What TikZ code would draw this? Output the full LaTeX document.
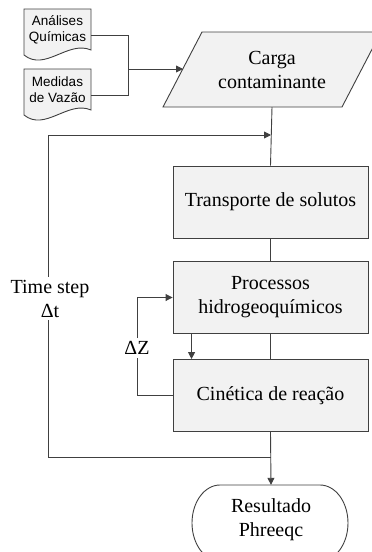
\documentclass[tikz,border=0pt]{standalone}
\usepackage{fontspec}
\setmainfont{Liberation Serif}
\newfontfamily\docsans{Liberation Sans}
\usetikzlibrary{arrows.meta}
\definecolor{boxfill}{HTML}{F2F2F2}
\definecolor{linec}{HTML}{404040}
\tikzset{
  conn/.style={draw=linec, line width=0.9pt},
  arr/.style={conn, -{Triangle[length=7pt,width=7pt]}},
  procbox/.style={draw=linec, line width=0.9pt, fill=boxfill, minimum width=195pt, minimum height=72pt, align=center, font=\fontsize{20}{24}\selectfont, inner sep=0pt},
  plain/.style={align=center, font=\fontsize{20}{24}\selectfont, inner sep=0pt},
  doctext/.style={align=center, font=\docsans\fontsize{13.5}{16}\selectfont, minimum width=67pt, inner sep=0pt},
  shapeline/.style={draw=linec, line width=0.9pt, fill=boxfill},
  termline/.style={draw=linec, line width=0.9pt, fill=white},
  lbl/.style={align=center, font=\fontsize{20}{24}\selectfont, inner sep=3pt}
}
\begin{document}
\begin{tikzpicture}[x=1pt,y=-1pt]
\useasboundingbox (0,0) rectangle (372,552);
\clip (0,0) rectangle (372,552);
% document shapes
\path[shapeline] (24,9) -- (91,9) -- (91,50) .. controls (68,40) and (45,72) .. (24,55) -- cycle;
\path[shapeline] (24,69) -- (91,69) -- (91,110) .. controls (68,100) and (45,132) .. (24,115) -- cycle;
\node[doctext] (doc1) at (57.5,30) {Análises\\Químicas};
\node[doctext] (doc2) at (57.5,90) {Medidas\\de Vazão};
% parallelogram
\path[shapeline] (163,107) -- (202,32) -- (381,32) -- (342,107) -- cycle;
\node[plain, minimum height=75pt] (carga) at (272,69.5) {Carga\\contaminante};
\coordinate (cargaL) at (183,69);
% process boxes
\node[procbox] (trans) at (270.5,202) {Transporte de solutos};
\node[procbox] (proc) at (270.5,297.5) {Processos\\hidrogeoquímicos};
\node[procbox] (cin) at (270.5,395.5) {Cinética de reação};
% terminal
\path[termline] (220,485) -- (320,485) arc[start angle=270,end angle=450,x radius=28,y radius=38] -- (220,561) arc[start angle=90,end angle=270,x radius=28,y radius=38] -- cycle;
\node[plain, minimum height=70pt] (res) at (271,520) {Resultado\\Phreeqc};
% labels
\node[lbl] (ts) at (50,298.5) {Time step\\Δt};
\node[lbl] (dz) at (137,348) {ΔZ};
% junctions
\coordinate (jtop) at (271,135);
\coordinate (jbot) at (271,457);
\coordinate (jdoc) at (128,69);
% connectors
\draw[conn] ([yshift=-5pt]doc1.east) -| (jdoc);
\draw[conn] ([yshift=-5pt]doc2.east) -| (jdoc);
\draw[arr] (jdoc) -- (cargaL);
\draw[conn] (carga.south) -- (trans.north);
\draw[conn] (trans.south) -- (proc.north);
\draw[conn] (proc.south) -- (cin.north);
\draw[arr] ([xshift=19pt]proc.south west) -- ([xshift=19pt]cin.north west);
\draw[arr] (cin.south) -- (res.north);
\draw[conn] (jbot) -| ([xshift=-2pt]ts.south);
\draw[arr] ([xshift=-2pt]ts.north) |- (jtop);
\draw[conn] (cin.west) -| (dz.south);
\draw[arr] (dz.north) |- (proc.west);
\end{tikzpicture}
\end{document}
